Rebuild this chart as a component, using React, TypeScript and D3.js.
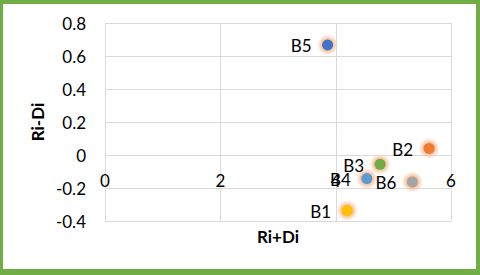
import React, { useRef, useEffect } from 'react';
import * as d3 from 'd3';

const pointLabels = ['B1', 'B2', 'B3', 'B4', 'B5', 'B6'];
const riPlusDi = [4.2, 5.62, 4.77, 4.54, 3.86, 5.33];
const riMinusDi = [-0.337, 0.04, -0.056, -0.143, 0.667, -0.163];
const pointColors = ['#FFC000', '#ED7D31', '#70AD47', '#5B9BD5', '#4472C4', '#A5A5A5'];
const xTicks = [0, 2, 4, 6];
const yTicks = [-0.4, -0.2, 0, 0.2, 0.4, 0.6, 0.8];

const App = () => {
  const svgRef = useRef(null);

  useEffect(() => {
    const svg = d3.select(svgRef.current);
    const width = 480;
    const height = 275;
    const plot = { left: 105, right: 451, top: 23, bottom: 221 };
    const font = 'Lato, "Open Sans", sans-serif';

    svg.selectAll('*').remove();

    // green frame
    svg.append('rect').attr('width', width).attr('height', height).attr('fill', '#70AD47');
    svg.append('rect')
      .attr('x', 3).attr('y', 4)
      .attr('width', width - 7).attr('height', height - 10)
      .attr('fill', '#ffffff');

    const defs = svg.append('defs');
    const glow = defs.append('radialGradient').attr('id', 'glow');
    glow.append('stop').attr('offset', '0.45').attr('stop-color', '#F4B183').attr('stop-opacity', 0.95);
    glow.append('stop').attr('offset', '0.75').attr('stop-color', '#F8CBAD').attr('stop-opacity', 0.55);
    glow.append('stop').attr('offset', '1').attr('stop-color', '#FBE5D6').attr('stop-opacity', 0);

    const x = d3.scaleLinear().domain([0, 6]).range([plot.left, plot.right]);
    const y = d3.scaleLinear().domain([-0.4, 0.8]).range([plot.bottom, plot.top]);

    // grid
    svg.append('g').selectAll('line')
      .data(yTicks)
      .enter().append('line')
      .attr('x1', plot.left).attr('x2', plot.right)
      .attr('y1', d => Math.round(y(d)) + 0.5).attr('y2', d => Math.round(y(d)) + 0.5)
      .attr('stroke', '#D9D9D9').attr('stroke-width', 1);
    svg.append('g').selectAll('line')
      .data(xTicks)
      .enter().append('line')
      .attr('x1', d => Math.round(x(d)) + 0.5).attr('x2', d => Math.round(x(d)) + 0.5)
      .attr('y1', plot.top).attr('y2', plot.bottom)
      .attr('stroke', '#D9D9D9').attr('stroke-width', 1);

    // tick labels
    svg.append('g').selectAll('text')
      .data(yTicks)
      .enter().append('text')
      .attr('x', 86).attr('y', d => y(d))
      .attr('text-anchor', 'end').attr('dominant-baseline', 'central')
      .attr('font-family', font).attr('font-size', 17).attr('fill', '#000')
      .text(d => d3.format('.1f')(d).replace('0.0', '0').replace('−', '-'));
    svg.append('g').selectAll('text')
      .data(xTicks)
      .enter().append('text')
      .attr('x', d => x(d)).attr('y', y(0) + 25)
      .attr('text-anchor', 'middle').attr('dominant-baseline', 'central')
      .attr('font-family', font).attr('font-size', 17).attr('fill', '#000')
      .text(d => d);

    // axis titles
    svg.append('text')
      .attr('x', (plot.left + plot.right) / 2).attr('y', 243)
      .attr('text-anchor', 'middle')
      .attr('font-family', font).attr('font-size', 17).attr('font-weight', 'bold')
      .text('Ri+Di');
    svg.append('text')
      .attr('transform', `translate(44,${(plot.top + plot.bottom) / 2}) rotate(-90)`)
      .attr('text-anchor', 'middle')
      .attr('font-family', font).attr('font-size', 17).attr('font-weight', 'bold')
      .text('Ri-Di');

    // points
    const pts = pointLabels.map((label, i) => ({ label, xv: riPlusDi[i], yv: riMinusDi[i], color: pointColors[i] }));
    const g = svg.append('g');
    g.selectAll('circle.glow')
      .data(pts)
      .enter().append('circle')
      .attr('class', 'glow')
      .attr('cx', d => x(d.xv)).attr('cy', d => y(d.yv))
      .attr('r', 11).attr('fill', 'url(#glow)');
    g.selectAll('circle.dot')
      .data(pts)
      .enter().append('circle')
      .attr('class', 'dot')
      .attr('cx', d => x(d.xv)).attr('cy', d => y(d.yv))
      .attr('r', 5.5).attr('fill', d => d.color);
    g.selectAll('text')
      .data(pts)
      .enter().append('text')
      .attr('x', d => x(d.xv) - 16).attr('y', d => y(d.yv) + 1)
      .attr('text-anchor', 'end').attr('dominant-baseline', 'central')
      .attr('font-family', font).attr('font-size', 17).attr('fill', '#000')
      .text(d => d.label);
  }, []);

  return (
    <svg ref={svgRef} width="480" height="275" style={{ position: 'absolute', left: 0, top: 0, display: 'block' }}></svg>
  );
};

export default App;
